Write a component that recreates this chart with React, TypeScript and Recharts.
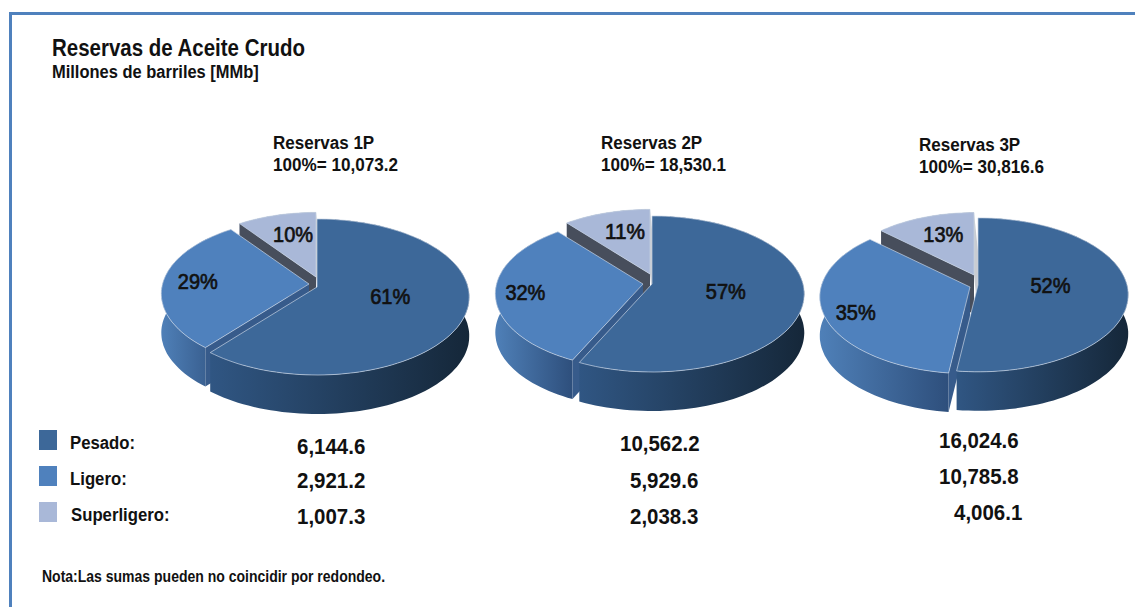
import { PieChart, Pie } from 'recharts';

const categories = ['Pesado', 'Ligero', 'Superligero'];
const reservas = ['Reservas 1P', 'Reservas 2P', 'Reservas 3P'];
const totals = ['10,073.2', '18,530.1', '30,816.6'];
const values1P = [6144.6, 2921.2, 1007.3];
const values2P = [10562.2, 5929.6, 2038.3];
const values3P = [16024.6, 10785.8, 4006.1];
const valueLabels1P = ['6,144.6', '2,921.2', '1,007.3'];
const valueLabels2P = ['10,562.2', '5,929.6', '2,038.3'];
const valueLabels3P = ['16,024.6', '10,785.8', '4,006.1'];

// drawn back to front: going counter clockwise from 12 o'clock gives the same slices as the picture
const toTable = (vals: number[]) => categories.map((name, i) => ({ name, value: vals[i] })).reverse();

const COLORS: Record<string, string> = { Pesado: '#3d6899', Ligero: '#4f81bd', Superligero: '#a9b8d8' };
const WALLS: Record<string, { from: string; to: string; startCut?: string; endCut?: string; skew?: number }> = {
  Pesado: { from: '#305683', to: '#152739' },
  Ligero: { from: '#4f80b8', to: '#2e4f7c', endCut: '#375b8b' },
  Superligero: { from: '#8f9dbb', to: '#6b7690', startCut: '#c9ccd2', endCut: '#474e5c', skew: 4 },
};

const TILT = 0.508;
const PERSP = 0.128;
const DEPTH = 39;

// tilted circle, the centre sits above the middle of the ellipse like in a real perspective view
const project = (cx: number, cy: number, r: number, deg: number) => {
  const t = (deg * Math.PI) / 180;
  const w = 1 + PERSP * Math.sin(t);
  return { x: cx + (r * Math.cos(t)) / w, y: cy - (r * TILT * Math.sin(t)) / w };
};

const toPath = (pts: { x: number; y: number }[]) =>
  pts.map((p, i) => `${i ? 'L' : 'M'}${p.x.toFixed(1)},${p.y.toFixed(1)}`).join(' ') + ' Z';

const Slice3D = (props: any) => {
  const { cx, cy, outerRadius, startAngle, endAngle, name, payload, explode, scale, pieId } = props;
  const key = name ?? payload?.name;
  const off = explode[key];
  const ox = cx + off[0];
  const oy = cy + off[1];
  const steps = Math.max(2, Math.ceil(Math.abs(endAngle - startAngle) / 2));
  const arc = [];
  for (let i = 0; i <= steps; i++) {
    arc.push(project(ox, oy, outerRadius * scale[key], startAngle + ((endAngle - startAngle) * i) / steps));
  }
  const down = (p: { x: number; y: number }, skew = 0) => ({ x: p.x + skew, y: p.y + DEPTH });
  const wall = WALLS[key];
  const apex = { x: ox, y: oy };
  const gradId = `wall-${pieId}-${key}`;
  const first = arc[0];
  const last = arc[arc.length - 1];
  return (
    <g>
      <defs>
        <linearGradient id={gradId} x1="0" y1="0" x2="1" y2="0">
          <stop offset="0%" stopColor={wall.from} />
          <stop offset="100%" stopColor={wall.to} />
        </linearGradient>
      </defs>
      <path d={toPath([...arc, ...arc.map((p) => down(p)).reverse()])} fill={`url(#${gradId})`} />
      {wall.startCut && (
        <path d={toPath([first, apex, down(apex, wall.skew), down(first, wall.skew)])} fill={wall.startCut} />
      )}
      {wall.endCut && <path d={toPath([last, apex, down(apex), down(last)])} fill={wall.endCut} />}
      <path d={toPath([apex, ...arc])} fill={COLORS[key]} stroke="#c6d3e4" strokeWidth={0.7} />
    </g>
  );
};

const PctLabel = (props: any) => {
  const { cx, cy, outerRadius, midAngle, percent, name, payload, explode, radii, nudge } = props;
  const key = name ?? payload?.name;
  const p = project(cx + explode[key][0], cy + explode[key][1], outerRadius * radii[key], midAngle);
  return (
    <text
      x={p.x + nudge[key][0]}
      y={p.y + nudge[key][1]}
      textAnchor="middle"
      dominantBaseline="central"
      fontFamily="'Liberation Sans', Arial, sans-serif"
      fontSize={22}
      textLength={40}
      lengthAdjust="spacingAndGlyphs"
      fill="#111"
      stroke="#111"
      strokeWidth={0.7}
    >
      {`${Math.round(percent * 100)}%`}
    </text>
  );
};

const pies = [
  {
    id: '1p',
    data: toTable(values1P),
    cx: 317,
    cy: 287,
    r: 151,
    explode: { Pesado: [0, 0], Ligero: [-8, -3], Superligero: [-1, -10] },
    scale: { Pesado: 1, Ligero: 0.97, Superligero: 0.95 },
    radii: { Pesado: 0.5, Ligero: 0.72, Superligero: 0.55 },
    nudge: { Pesado: [-1, -4], Ligero: [-3, -1], Superligero: [0, -7] },
  },
  {
    id: '2p',
    data: toTable(values2P),
    cx: 652,
    cy: 284,
    r: 151,
    explode: { Pesado: [0, 0], Ligero: [-9, 0], Superligero: [-2, -10] },
    scale: { Pesado: 1, Ligero: 0.97, Superligero: 0.95 },
    radii: { Pesado: 0.5, Ligero: 0.72, Superligero: 0.55 },
    nudge: { Pesado: [-2, -1], Ligero: [-8, 1], Superligero: [0, -7] },
  },
  {
    id: '3p',
    data: toTable(values3P),
    cx: 978,
    cy: 285,
    r: 149,
    explode: { Pesado: [0, 0], Ligero: [-8, 2], Superligero: [-4, -10] },
    scale: { Pesado: 1, Ligero: 1, Superligero: 0.93 },
    radii: { Pesado: 0.55, Ligero: 0.8, Superligero: 0.58 },
    nudge: { Pesado: [-10, -2], Ligero: [3, 4], Superligero: [0, -4] },
  },
];

const FONT = "'Liberation Sans', Arial, sans-serif";

const Txt = ({ x, y, size, sx, children }: { x: number; y: number; size: number; sx: number; children: React.ReactNode }) => (
  <div
    style={{
      position: 'absolute',
      left: x,
      top: y,
      transform: `translateY(-50%) scaleX(${sx})`,
      transformOrigin: 'left center',
      fontFamily: FONT,
      fontWeight: 700,
      fontSize: size,
      lineHeight: 1,
      color: '#111',
      whiteSpace: 'nowrap',
    }}
  >
    {children}
  </div>
);

const headerX = [273, 601, 919];
const headerY = [143, 143, 145];
const legendY = [440, 476, 512];
const legendLabelX = [70, 70, 71];
const legendLabelY = [443, 479, 515];
const valueCols = [
  { labels: valueLabels1P, x: [297, 297, 297], y: [447, 481, 517] },
  { labels: valueLabels2P, x: [620, 630, 630], y: [444, 481, 517] },
  { labels: valueLabels3P, x: [939, 939, 954], y: [441, 477, 513] },
];

export default function App() {
  return (
    <div style={{ position: 'absolute', left: 0, top: 0, width: 1135, height: 607, background: '#fff', overflow: 'hidden' }}>
      <div style={{ position: 'absolute', left: 9, top: 12, width: 1126, height: 3, background: '#4f81bd' }} />
      <div style={{ position: 'absolute', left: 9, top: 12, width: 3, height: 595, background: '#4f81bd' }} />

      <PieChart
        width={1135}
        height={607}
        margin={{ top: 0, right: 0, bottom: 0, left: 0 }}
        style={{ position: 'absolute', left: 0, top: 0 }}
      >
        {pies.map((p) => (
          <Pie
            key={p.id}
            data={p.data}
            dataKey="value"
            nameKey="name"
            cx={p.cx}
            cy={p.cy}
            outerRadius={p.r}
            startAngle={90}
            endAngle={450}
            stroke="none"
            isAnimationActive={false}
            labelLine={false}
            shape={(s: any) => <Slice3D {...s} explode={p.explode} scale={p.scale} pieId={p.id} />}
            label={(l: any) => <PctLabel {...l} explode={p.explode} radii={p.radii} nudge={p.nudge} />}
          />
        ))}
      </PieChart>

      <Txt x={52} y={48} size={23} sx={0.89}>Reservas de Aceite Crudo</Txt>
      <Txt x={52} y={72} size={18} sx={0.915}>Millones de barriles [MMb]</Txt>

      {reservas.map((r, i) => (
        <div key={r}>
          <Txt x={headerX[i]} y={headerY[i]} size={18} sx={0.945}>{r}</Txt>
          <Txt x={headerX[i]} y={headerY[i] + 22} size={18} sx={0.95}>{`100%= ${totals[i]}`}</Txt>
        </div>
      ))}

      {categories.map((c, i) => (
        <div key={c}>
          <div style={{ position: 'absolute', left: 39, top: legendY[i] - 10, width: 18, height: 20, background: COLORS[c] }} />
          <Txt x={legendLabelX[i]} y={legendLabelY[i]} size={18} sx={0.93}>{`${c}:`}</Txt>
        </div>
      ))}

      {valueCols.map((col, j) =>
        col.labels.map((v, i) => (
          <Txt key={`${j}-${i}`} x={col.x[i]} y={col.y[i]} size={22} sx={0.93}>{v}</Txt>
        ))
      )}

      <Txt x={42} y={577} size={16} sx={0.875}>Nota:Las sumas pueden no coincidir por redondeo.</Txt>
    </div>
  );
}
